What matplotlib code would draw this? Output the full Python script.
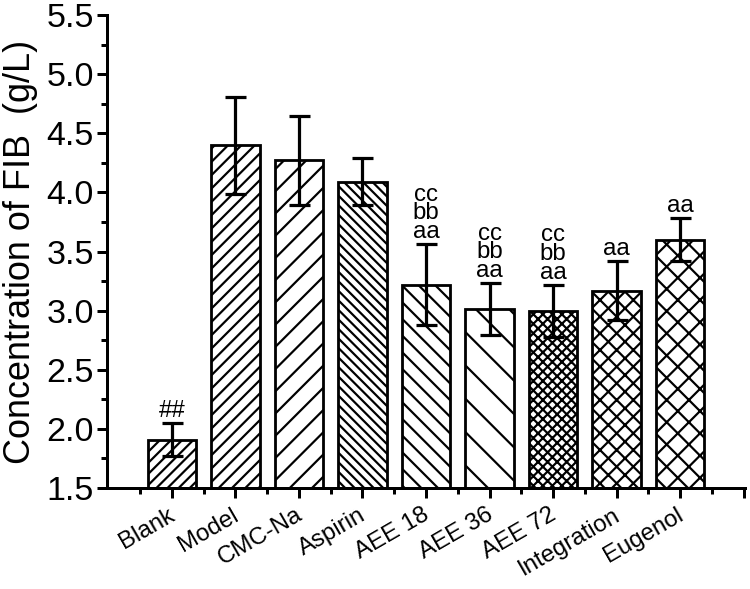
import matplotlib
matplotlib.use('Agg')
import matplotlib.pyplot as plt
from matplotlib.transforms import ScaledTranslation

categories = ['Blank', 'Model', 'CMC-Na', 'Aspirin', 'AEE 18', 'AEE 36', 'AEE 72', 'Integration', 'Eugenol']
means = [1.91, 4.40, 4.27, 4.09, 3.22, 3.01, 3.00, 3.17, 3.60]
errors = [0.14, 0.41, 0.38, 0.20, 0.34, 0.22, 0.22, 0.25, 0.18]
marks = ['##', '', '', '', 'cc\nbb\naa', 'cc\nbb\naa', 'cc\nbb\naa', 'aa', 'aa']
hatches = ['/' * 6, '/' * 5, '/' * 3, '\\' * 7, '\\' * 4, '\\' * 2, 'x' * 7, 'x' * 4, 'x' * 3]
yticks = [1.5, 2.0, 2.5, 3.0, 3.5, 4.0, 4.5, 5.0, 5.5]

DPI = 200


def pt(px):
    return px * 72 / DPI


plt.rcParams['font.family'] = ['Liberation Sans', 'DejaVu Sans']
plt.rcParams['hatch.linewidth'] = pt(2.2)
plt.rcParams['hatch.color'] = 'black'

fig = plt.figure(figsize=(750 / DPI, 589 / DPI), dpi=DPI)
ax = fig.add_axes([107 / 750, 1 - 488 / 589, (745 - 107) / 750, (488 - 15) / 589])

xs = list(range(1, len(categories) + 1))
bars = ax.bar(xs, means, width=0.76, color='white', edgecolor='black',
              linewidth=pt(2.8), zorder=2)
for b, h in zip(bars, hatches):
    b.set_hatch(h)

ax.errorbar(xs, means, yerr=errors, fmt='none', ecolor='black',
            elinewidth=pt(3.2), capsize=pt(10.5), capthick=pt(3.2), zorder=3)

for xi, m, e, mk in zip(xs, means, errors, marks):
    if not mk:
        continue
    ax.annotate(mk, (xi, m + e), xytext=(0, pt(1)),
                textcoords='offset points', ha='center', va='bottom',
                multialignment='center', linespacing=0.82,
                fontsize=pt(24))

ax.set_xlim(-0.02, 10.02)
ax.set_ylim(1.5, 5.5)
ax.set_yticks(yticks)
ax.set_yticklabels([f'{v:.1f}' for v in yticks], fontsize=pt(34))
ax.set_yticks([v + 0.25 for v in yticks[:-1]], minor=True)

ax.set_xticks(xs + [10])
ax.set_xticklabels(categories + [''], fontsize=pt(24), rotation=30,
                   ha='right', va='top', rotation_mode='anchor')
ax.set_xticks([v - 0.5 for v in xs + [10]], minor=True)

for sp in ['top', 'right']:
    ax.spines[sp].set_visible(False)
for sp in ['left', 'bottom']:
    ax.spines[sp].set_linewidth(pt(3))

ax.tick_params(which='major', direction='out', length=pt(10), width=pt(3), pad=pt(3))
ax.tick_params(which='minor', direction='out', length=pt(6), width=pt(3))

off = ScaledTranslation(-4 / DPI, -3 / DPI, fig.dpi_scale_trans)
for lab in ax.get_xticklabels():
    lab.set_transform(lab.get_transform() + off)

ax.set_ylabel('Concentration of FIB  (g/L)', fontsize=pt(36), labelpad=pt(8))

fig.savefig('out.png', dpi=DPI)
